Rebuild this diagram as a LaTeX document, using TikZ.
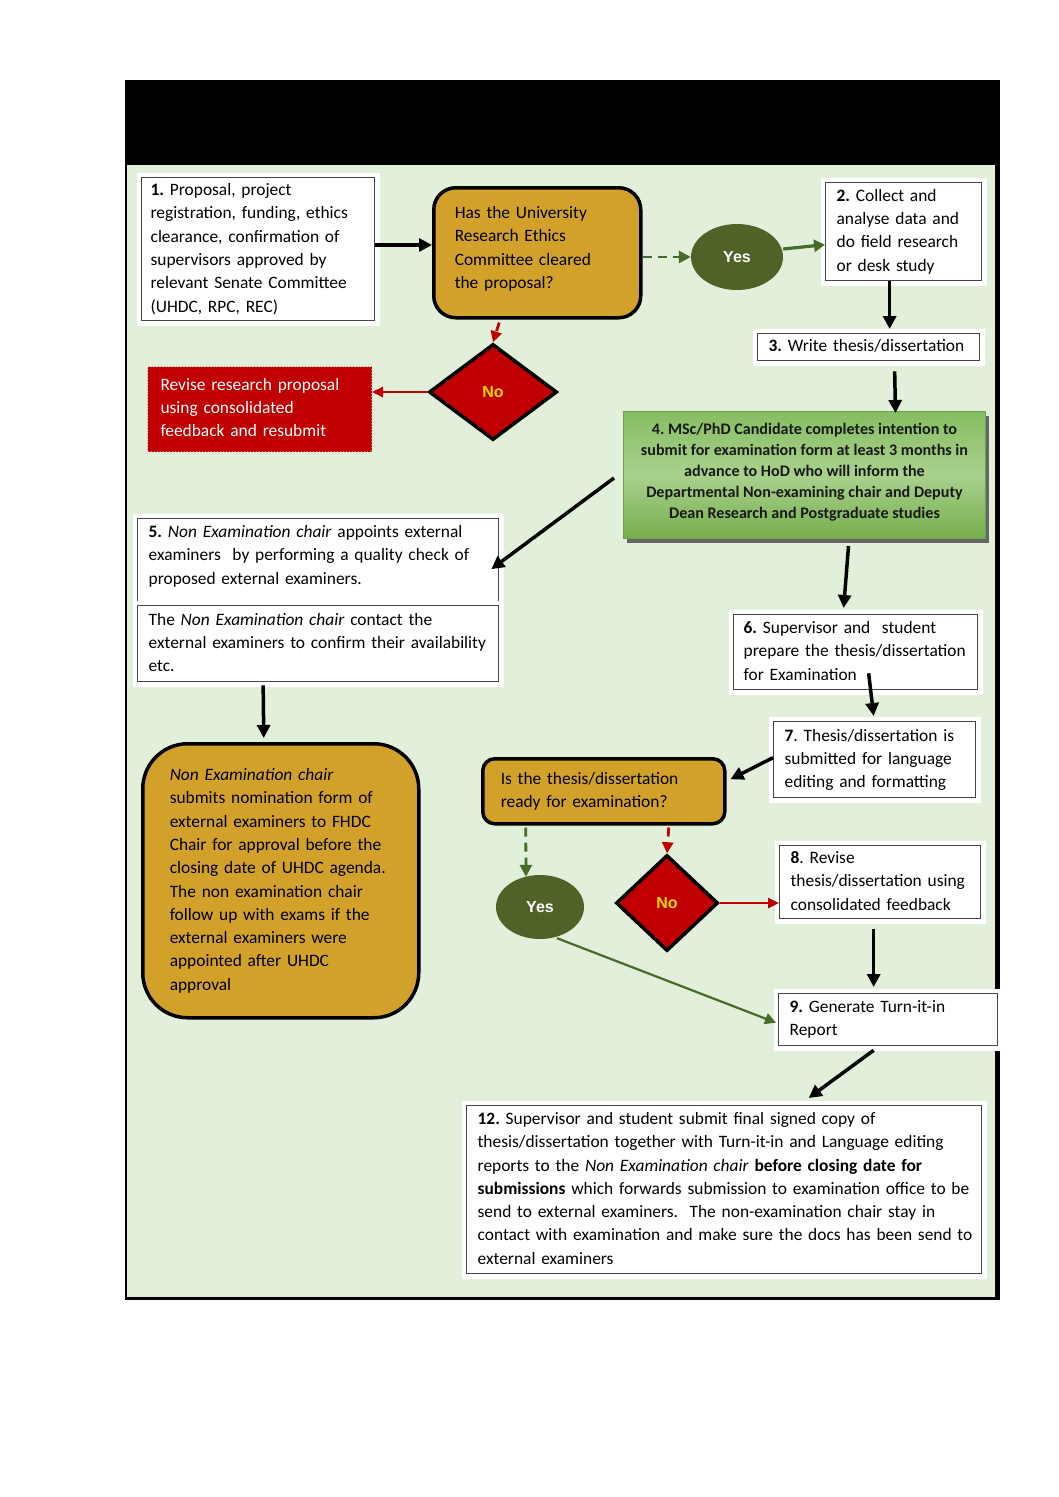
\documentclass[tikz,border=0pt]{standalone}
\usepackage{fontspec}
\setmainfont{Carlito}
\newfontfamily\arialfont{Liberation Sans}
\usetikzlibrary{shapes.geometric,arrows.meta,calc,shadows}
\definecolor{bgg}{HTML}{E2EFDA}
\definecolor{gold}{HTML}{D2A12A}
\definecolor{olive}{HTML}{4F6228}
\definecolor{dred}{HTML}{C00000}
\definecolor{yel}{HTML}{FFD800}
\definecolor{garrow}{HTML}{466B2A}
\definecolor{bord}{HTML}{454545}
\definecolor{rvborder}{HTML}{E87878}
\definecolor{gtop}{HTML}{86BD62}
\definecolor{gmid}{HTML}{A9D18E}
\definecolor{gbot}{HTML}{76AD4D}
\definecolor{gborder}{HTML}{6E9F4A}
\newcommand{\bodyfont}{\fontsize{17.4pt}{23.3pt}\selectfont}
\newcommand{\tlines}[1]{\begin{tabular}{@{}l@{}}#1\end{tabular}}
\newcommand{\tclines}[1]{\begin{tabular}{@{}c@{}}#1\end{tabular}}
\frenchspacing
\begin{document}
\frenchspacing
\begin{tikzpicture}[x=1pt,y=-1pt,
  wbox/.style={draw=bord,line width=1.3pt,fill=white,preaction={draw=white,line width=10pt},anchor=north west,inner ysep=0pt,align=left,font=\bodyfont},
  gbox/.style={draw=black,line width=3.5pt,fill=gold,anchor=north west,inner ysep=0pt,align=left,font=\bodyfont},
  yesnode/.style={ellipse,fill=olive,text=white,font=\arialfont\bfseries\fontsize{16pt}{18pt}\selectfont,inner sep=0pt},
  nonode/.style={diamond,fill=dred,draw=black,line width=3.5pt,text=yel,font=\arialfont\bfseries\fontsize{16pt}{18pt}\selectfont,inner sep=0pt},
  blk/.style={draw=black,line width=3.5pt,-{Triangle[length=13pt,width=13pt]}},
  gdash/.style={draw=garrow,line width=2.8pt,dash pattern=on 9pt off 6pt,-{Triangle[length=12pt,width=12pt]}},
  gsolid/.style={draw=garrow,line width=3.2pt,-{Triangle[length=11pt,width=12pt]}},
  glong/.style={draw=garrow,line width=2.2pt,-{Triangle[length=11pt,width=11pt]}},
  rdash/.style={draw=dred,line width=2.8pt,dash pattern=on 9pt off 6pt,-{Triangle[length=11pt,width=11pt]}},
  rsolid/.style={draw=dred,line width=2.4pt,-{Triangle[length=11pt,width=10pt]}}]
\useasboundingbox (0,0) rectangle (1058,1497);
\fill[white] (0,0) rectangle (1058,1497);
\fill[black] (125,80) rectangle (1000,1300);
\fill[bgg] (127,165) rectangle (995,1297);

% boxes
\node[wbox,minimum width=233pt,minimum height=143pt,inner xsep=9pt,text width=215pt] (b1) at (141,177)
 {\tlines{\textbf{1.} Proposal, project\\registration, funding, ethics\\clearance, confirmation of\\supervisors approved by\\relevant Senate Committee\\(UHDC, RPC, REC)}};
\node[gbox,rounded corners=22pt,minimum width=207pt,minimum height=130pt,inner xsep=21pt,text width=165pt] (d1) at (432,186)
 {\tlines{Has the University\\Research Ethics\\Committee cleared\\the proposal?\\[8pt]}};
\node[yesnode,minimum width=92pt,minimum height=66pt] (y1) at (737,257) {Yes};
\node[wbox,minimum width=156pt,minimum height=98pt,inner xsep=11pt,text width=134pt] (b2) at (825,182)
 {\tlines{\textbf{2.} Collect and\\analyse data and\\do field research\\or desk study}};
\node[wbox,minimum width=222pt,minimum height=27pt,inner xsep=11pt,text width=200pt] (b3) at (757,333)
 {\tlines{\textbf{3.} Write thesis/dissertation}};
\node[drop shadow={shadow xshift=3pt,shadow yshift=-4pt,fill=black!60,opacity=1},draw=gborder,line width=1pt,
  top color=gtop,bottom color=gbot,middle color=gmid,anchor=north west,minimum width=362pt,minimum height=127pt,
  inner sep=0pt,align=center,font=\fontsize{16.1pt}{21pt}\selectfont\bfseries,text=black!90] (b4) at (623,411)
 {\tclines{4. MSc/PhD Candidate completes intention to\\submit for examination form at least 3 months in\\advance to HoD who will inform the\\Departmental Non-examining chair and Deputy\\Dean Research and Postgraduate studies\\[6pt]}};
\node[nonode,minimum width=128pt,minimum height=96pt] (n1) at (493,392) {No};
\node[anchor=north west,fill=dred,draw=rvborder,dotted,line width=1pt,minimum width=224pt,minimum height=85pt,
  inner xsep=13pt,inner ysep=0pt,text width=198pt,align=left,text=white,font=\bodyfont] (rv) at (147,366)
 {\tlines{Revise research proposal\\using consolidated\\feedback and resubmit}};
\node[wbox,minimum width=361pt,minimum height=87pt,inner xsep=11pt,text width=339pt] (b5a) at (137,518)
 {\tlines{\textbf{5.} \textit{Non Examination chair} appoints external\\examiners\ \ by performing a quality check of\\proposed external examiners.\\[12pt]}};
\node[wbox,minimum width=361pt,minimum height=76pt,inner xsep=11pt,text width=339pt] (b5b) at (137,605)
 {\tlines{The \textit{Non Examination chair} contact the\\external examiners to confirm their availability\\etc.}};
\node[gbox,rounded corners=45pt,minimum width=276pt,minimum height=274pt,inner xsep=27pt,text width=222pt] (g1) at (141,742)
 {\tlines{\textit{Non Examination chair}\\submits nomination form of\\external examiners to FHDC\\Chair for approval before the\\closing date of UHDC agenda.\\The non examination chair\\follow up with exams if the\\external examiners were\\appointed after UHDC\\approval}};
\node[wbox,minimum width=244pt,minimum height=75pt,inner xsep=10pt,text width=224pt] (b6) at (733,614)
 {\tlines{\textbf{6.} Supervisor and\ \ student\\prepare the thesis/dissertation\\for Examination}};
\node[wbox,minimum width=202pt,minimum height=76pt,inner xsep=11pt,text width=180pt] (b7) at (773,721)
 {\tlines{\textbf{7}. Thesis/dissertation is\\submitted for language\\editing and formatting}};
\node[gbox,rounded corners=12pt,minimum width=242pt,minimum height=65pt,inner xsep=18pt,text width=206pt] (d2) at (481,757)
 {\tlines{Is the thesis/dissertation\\ready for examination?}};
\node[yesnode,minimum width=88pt,minimum height=64pt] (y2) at (540,907) {Yes};
\node[nonode,minimum width=102pt,minimum height=96pt] (n2) at (667,903) {No};
\node[wbox,minimum width=201pt,minimum height=73pt,inner xsep=11pt,text width=179pt] (b8) at (779,845)
 {\tlines{\textbf{8}. Revise\\thesis/dissertation using\\consolidated feedback}};
\node[wbox,minimum width=219pt,minimum height=52pt,inner xsep=11pt,text width=197pt] (b9) at (778,993)
 {\tlines{\textbf{9.} Generate Turn-it-in\\Report}};
\node[wbox,minimum width=515pt,minimum height=168pt,inner xsep=11pt,text width=493pt] (b12) at (466,1105)
 {\tlines{\textbf{12.} Supervisor and student submit final signed copy of\\thesis/dissertation together with Turn-it-in and Language editing\\reports to the \textit{Non Examination chair} \textbf{before closing date for}\\\textbf{submissions} which forwards submission to examination office to be\\send to external examiners.\ \ The non-examination chair stay in\\contact with examination and make sure the docs has been send to\\external examiners}};

% connectors
\draw[blk] (b1.east |- 0,245) -- (d1.west |- 0,245);
\draw[gdash] (d1.east |- y1.west) -- (y1.west);
\draw[gsolid] ($(y1.east)+(0,-8)$) -- ($(b2.west)+(0,13)$);
\draw[blk] ($(b2.south)+(-14,0)$) -- ($(b3.north)+(21,-4)$);
\draw[blk] ($(b3.south)+(26,10)$) -- ($(b4.north)+(91,2)$);
\draw[rdash] ($(d1.south)+(-38,3)$) -- (n1.north);
\draw[rsolid] (n1.west) -- (rv.east |- n1.west);
\draw[blk] ($(b4.west)+(-9,3)$) -- ($(b5a.east)+(-8,7)$);
\draw[blk] ($(b5b.south)+(-55,3)$) -- ($(g1.north)+(-17,-4)$);
\draw[blk] ($(b4.south)+(44,7)$) -- ($(b6.north)+(-12,-6)$);
\draw[blk] ($(b6.south)+(13,-17)$) -- ($(b7.north)+(-1,-5)$);
\draw[blk] ($(b7.west)+(0,-2)$) -- ($(d2.east)+(4,-12)$);
\draw[gdash] ($(d2.south)+(-78,2)$) -- ($(y2.north)+(-14,2)$);
\draw[rdash] ($(d2.south)+(65,2)$) -- (n2.north);
\draw[rsolid] (n2.east) -- (b8.west |- n2.east);
\draw[blk] ($(b8.south)+(-6.5,10)$) -- ($(b9.north)+(-14.5,-6)$);
\draw[glong] ($(y2.south)+(17,-1)$) -- ($(b9.west)+(-2,3)$);
\draw[blk] ($(b9.south)+(-14.5,4)$) -- ($(b12.north)+(84.5,-7)$);
\end{tikzpicture}
\end{document}
